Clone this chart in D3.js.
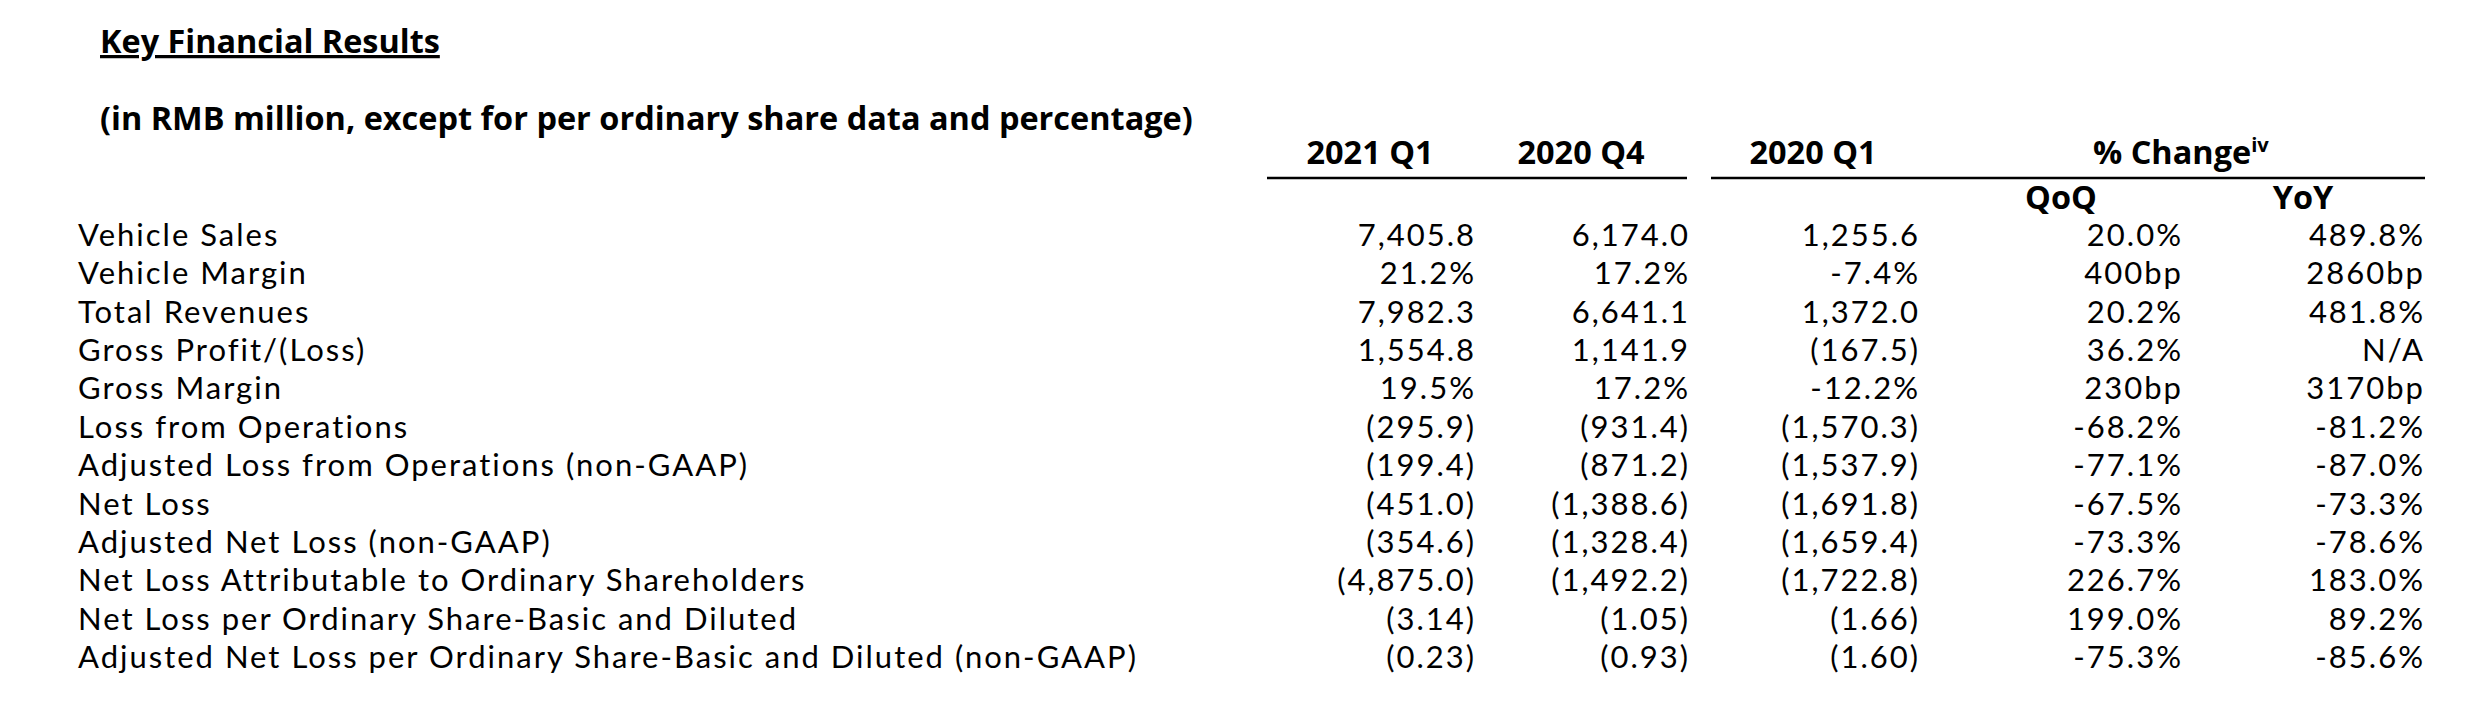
<!DOCTYPE html>
<html>
<head>
<meta charset="utf-8">
<script src="https://cdn.jsdelivr.net/npm/d3@7"></script>
<style>
  body { margin: 0; background: #fff; }
  text { fill: #000; }
  .bold_text { font-family: "Open Sans", "Noto Sans", sans-serif; font-weight: bold; }
  .body_text { font-family: Lato, "Noto Sans", sans-serif; }
</style>
</head>
<body>
<div id="table_fig"></div>
<script>
// data
const row_labels = [
	"Vehicle Sales",
	"Vehicle Margin",
	"Total Revenues",
	"Gross Profit/(Loss)",
	"Gross Margin",
	"Loss from Operations",
	"Adjusted Loss from Operations (non-GAAP)",
	"Net Loss",
	"Adjusted Net Loss (non-GAAP)",
	"Net Loss Attributable to Ordinary Shareholders",
	"Net Loss per Ordinary Share-Basic and Diluted",
	"Adjusted Net Loss per Ordinary Share-Basic and Diluted (non-GAAP)"
]
const col_2021q1 = ["7,405.8", "21.2%", "7,982.3", "1,554.8", "19.5%", "(295.9)", "(199.4)", "(451.0)", "(354.6)", "(4,875.0)", "(3.14)", "(0.23)"]
const col_2020q4 = ["6,174.0", "17.2%", "6,641.1", "1,141.9", "17.2%", "(931.4)", "(871.2)", "(1,388.6)", "(1,328.4)", "(1,492.2)", "(1.05)", "(0.93)"]
const col_2020q1 = ["1,255.6", "-7.4%", "1,372.0", "(167.5)", "-12.2%", "(1,570.3)", "(1,537.9)", "(1,691.8)", "(1,659.4)", "(1,722.8)", "(1.66)", "(1.60)"]
const col_qoq = ["20.0%", "400bp", "20.2%", "36.2%", "230bp", "-68.2%", "-77.1%", "-67.5%", "-73.3%", "226.7%", "199.0%", "-75.3%"]
const col_yoy = ["489.8%", "2860bp", "481.8%", "N/A", "3170bp", "-81.2%", "-87.0%", "-73.3%", "-78.6%", "183.0%", "89.2%", "-85.6%"]

const col_keys = ["2021 Q1", "2020 Q4", "2020 Q1", "QoQ", "YoY"]
const period_headers = ["2021 Q1", "2020 Q4", "2020 Q1"]
const sub_headers = ["QoQ", "YoY"]
const change_header = "% Change"
const change_note = "iv"
const title_text = "Key Financial Results"
const subtitle_text = "(in RMB million, except for per ordinary share data and percentage)"

const columns = [col_2021q1, col_2020q4, col_2020q1, col_qoq, col_yoy]

// layout
const width = 2490
const height = 710
const label_x = 78
const text_x = 100
const body_size = 31

table_svg = d3.select("#table_fig")
	.append("svg")
	.attr("width", width)
	.attr("height", height)

// size a bold font so that the sample string gets the wanted width
function fit_size(sample, target){
	var probe = table_svg.append("text")
		.attr("class", "bold_text")
		.attr("font-size", 30)
		.text(sample)
	var w = probe.node().getComputedTextLength()
	probe.remove()
	return 30 * target / w
}

// letter spacing so the body font gets as wide as the original one
function fit_spacing(sample, target){
	var probe = table_svg.append("text")
		.attr("class", "body_text")
		.attr("font-size", body_size)
		.text(sample)
	var w = probe.node().getComputedTextLength()
	probe.remove()
	return (target - w) / sample.length
}

const head_size = fit_size(subtitle_text, 1093)
const title_size = fit_size(title_text, 340)
const body_spacing = fit_spacing(row_labels[11], 1060)

// row baselines
var y_row = d3.scalePoint()
	.domain(row_labels)
	.range([246, 668])

// right edge of each value column
var x_col = d3.scaleOrdinal()
	.domain(col_keys)
	.range([1474, 1688, 1918, 2181, 2423])

table_svg.append("text")
	.attr("class", "bold_text")
	.attr("x", text_x)
	.attr("y", 53)
	.attr("font-size", title_size)
	.attr("text-decoration", "underline")
	.text(title_text)

table_svg.append("text")
	.attr("class", "bold_text")
	.attr("x", text_x)
	.attr("y", 130)
	.attr("font-size", head_size)
	.text(subtitle_text)

// period headers, centred over their columns
var header_x = d3.scaleOrdinal()
	.domain(period_headers)
	.range([1370, 1581, 1813])

table_svg.selectAll(".period_head")
	.data(period_headers)
	.enter()
	.append("text")
	.attr("class", "period_head bold_text")
	.attr("x", d => header_x(d))
	.attr("y", 164)
	.attr("text-anchor", "middle")
	.attr("font-size", head_size)
	.text(d => d)

var change = table_svg.append("text")
	.attr("class", "bold_text")
	.attr("x", 2093)
	.attr("y", 164)
	.attr("font-size", head_size)
change.append("tspan").text(change_header)
change.append("tspan")
	.attr("font-size", head_size * 0.62)
	.attr("dy", -12)
	.text(change_note)

// rules under the headers
table_svg.append("line")
	.attr("x1", 1267).attr("x2", 1687)
	.attr("y1", 178).attr("y2", 178)
	.attr("stroke", "#000")
	.attr("stroke-width", 2.5)
table_svg.append("line")
	.attr("x1", 1711).attr("x2", 2425)
	.attr("y1", 178).attr("y2", 178)
	.attr("stroke", "#000")
	.attr("stroke-width", 2.5)

// QoQ / YoY sub headers
var sub_x = d3.scaleOrdinal()
	.domain(sub_headers)
	.range([2061, 2303])

table_svg.selectAll(".sub_head")
	.data(sub_headers)
	.enter()
	.append("text")
	.attr("class", "sub_head bold_text")
	.attr("x", d => sub_x(d))
	.attr("y", 209)
	.attr("text-anchor", "middle")
	.attr("font-size", head_size)
	.text(d => d)

// row labels
table_svg.selectAll(".row_label")
	.data(row_labels)
	.enter()
	.append("text")
	.attr("class", "row_label body_text")
	.attr("x", label_x)
	.attr("y", d => y_row(d))
	.attr("font-size", body_size)
	.attr("letter-spacing", body_spacing)
	.text(d => d)

// value cells
columns.forEach(function(values, c){
	table_svg.selectAll(".cell_" + c)
		.data(values)
		.enter()
		.append("text")
		.attr("class", "cell_" + c + " body_text")
		.attr("x", x_col(col_keys[c]) + body_spacing)
		.attr("y", (d, i) => y_row(row_labels[i]))
		.attr("text-anchor", "end")
		.attr("font-size", body_size)
		.attr("letter-spacing", body_spacing)
		.text(d => d)
})
</script>
</body>
</html>
